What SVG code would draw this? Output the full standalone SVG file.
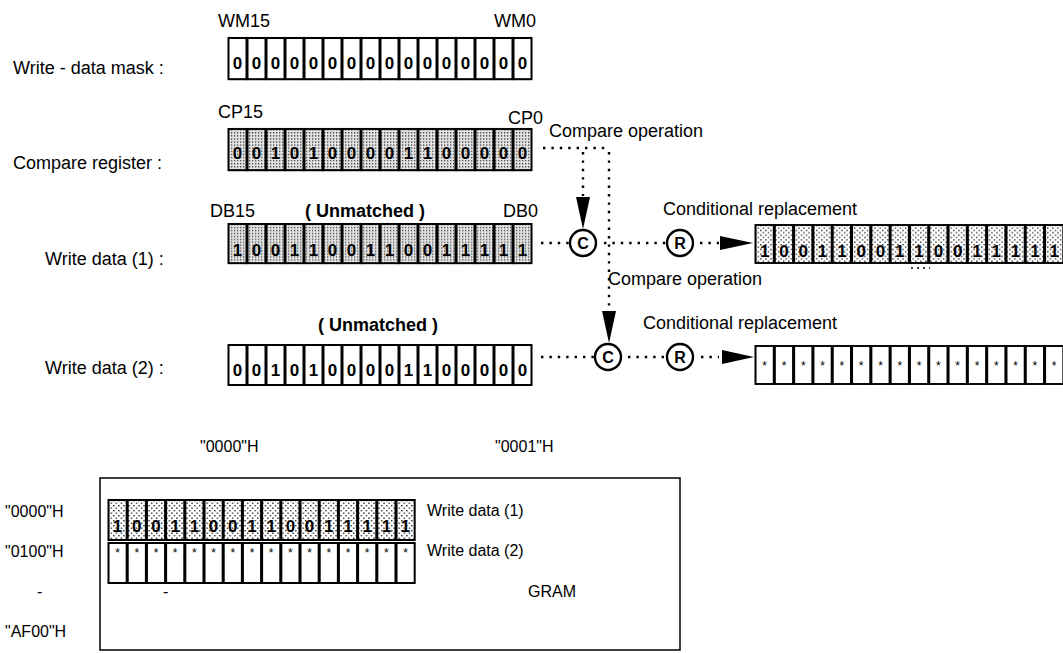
<svg xmlns="http://www.w3.org/2000/svg" xmlns:xlink="http://www.w3.org/1999/xlink" width="1063" height="653" viewBox="0 0 1063 653">
<style>
text{font-family:"Liberation Sans",Arial,sans-serif;font-size:18px;fill:#000}
.g{font-size:16px}
.b{font-weight:bold;font-size:18px}
.d{font-weight:bold;font-size:17px;text-anchor:middle}
.s{font-size:12px;text-anchor:middle}
.cell{stroke:#000;stroke-width:2}
.dot{stroke:#000;stroke-width:2.4;stroke-dasharray:2.4 6;fill:none}
.circ{fill:#fff;stroke:#000;stroke-width:2.4}
.cl{font-weight:bold;font-size:16px;text-anchor:middle}
</style>
<defs>
<pattern id="dense" width="3" height="3" patternUnits="userSpaceOnUse">
<rect width="3" height="3" fill="#e2e2e2"/>
<rect width="1.3" height="1.3" fill="#4a4a4a"/>
</pattern>
<pattern id="light" width="5" height="5" patternUnits="userSpaceOnUse">
<rect width="5" height="5" fill="#fff"/>
<rect width="1.4" height="1.4" fill="#333"/>
<rect x="2.5" y="2.5" width="1.4" height="1.4" fill="#333"/>
</pattern>
<g id="row">
<rect class="cell" x="0.5" y="0" width="18" height="40"/>
<rect class="cell" x="19.5" y="0" width="18" height="40"/>
<rect class="cell" x="38.5" y="0" width="18" height="40"/>
<rect class="cell" x="57.5" y="0" width="18" height="40"/>
<rect class="cell" x="76.5" y="0" width="18" height="40"/>
<rect class="cell" x="95.5" y="0" width="18" height="40"/>
<rect class="cell" x="114.5" y="0" width="18" height="40"/>
<rect class="cell" x="133.5" y="0" width="18" height="40"/>
<rect class="cell" x="152.5" y="0" width="18" height="40"/>
<rect class="cell" x="171.5" y="0" width="18" height="40"/>
<rect class="cell" x="190.5" y="0" width="18" height="40"/>
<rect class="cell" x="209.5" y="0" width="18" height="40"/>
<rect class="cell" x="228.5" y="0" width="18" height="40"/>
<rect class="cell" x="247.5" y="0" width="18" height="40"/>
<rect class="cell" x="266.5" y="0" width="18" height="40"/>
<rect class="cell" x="285.5" y="0" width="18" height="40"/>
</g>
</defs>

<g id="labels">
<text x="13" y="74">Write - data mask :</text>
<text x="13" y="169">Compare register :</text>
<text x="45" y="265">Write data (1)  :</text>
<text x="45" y="374">Write data (2)  :</text>
</g>

<g id="mask">
<text x="218" y="27">WM15</text>
<text x="494" y="27">WM0</text>
<use xlink:href="#row" transform="translate(228,38) scale(1,1.03)" fill="#fff"/>
<text class="d" y="69" x="237.5 256.5 275.5 294.5 313.5 332.5 351.5 370.5 389.5 408.5 427.5 446.5 465.5 484.5 503.5 522.5">0000000000000000</text>
</g>

<g id="compare">
<text x="218" y="118">CP15</text>
<text x="508" y="124">CP0</text>
<use xlink:href="#row" transform="translate(228,129) scale(1,1.03)" fill="url(#dense)"/>
<text class="d" y="159" x="237.5 256.5 275.5 294.5 313.5 332.5 351.5 370.5 389.5 408.5 427.5 446.5 465.5 484.5 503.5 522.5">0010100001100000</text>
</g>

<g id="wdata1">
<text x="210" y="217">DB15</text>
<text class="b" x="305" y="217">( Unmatched )</text>
<text x="503" y="217">DB0</text>
<use xlink:href="#row" transform="translate(228,224) scale(1,0.98)" fill="url(#dense)"/>
<text class="d" y="256" x="237.5 256.5 275.5 294.5 313.5 332.5 351.5 370.5 389.5 408.5 427.5 446.5 465.5 484.5 503.5 522.5">1001100110011111</text>
</g>

<g id="wdata2">
<text class="b" x="318" y="331">( Unmatched )</text>
<use xlink:href="#row" transform="translate(228,345)" fill="#fff"/>
<text class="d" y="376" x="237.5 256.5 275.5 294.5 313.5 332.5 351.5 370.5 389.5 408.5 427.5 446.5 465.5 484.5 503.5 522.5">0010100001100000</text>
</g>

<g id="result1">
<text x="663" y="215">Conditional replacement</text>
<use xlink:href="#row" transform="translate(755,225) scale(1.016,0.95)" fill="url(#light)"/>
<text class="d" y="257" x="764.7 784 803.3 822.6 841.9 861.2 880.5 899.8 919.1 938.4 957.7 977 996.3 1015.6 1034.9 1054.2">1001100110011111</text>
</g>

<g id="result2">
<text x="643" y="329">Conditional replacement</text>
<use xlink:href="#row" transform="translate(755,346) scale(1.016,0.95)" fill="#fff"/>
<text class="s" y="370" x="764.7 784 803.3 822.6 841.9 861.2 880.5 899.8 919.1 938.4 957.7 977 996.3 1015.6 1034.9 1054.2">****************</text>
</g>

<g id="connectors">
<text x="549" y="137">Compare operation</text>
<text x="608" y="285">Compare operation</text>
<path class="dot" d="M543 148 H609"/>
<path class="dot" d="M583 152 V196"/>
<path d="M576 197 L590 197 L583 229 Z" fill="#000"/>
<path class="dot" d="M609 152 V310"/>
<path d="M602 311 L616 311 L609 343 Z" fill="#000"/>
<path class="dot" d="M541 243 H571"/>
<path class="dot" d="M604 243 H667"/>
<path class="dot" d="M700 243 H719"/>
<path d="M720 236 L720 250 L753 243 Z" fill="#000"/>
<path class="dot" d="M541 357 H595"/>
<path class="dot" d="M628 357 H667"/>
<path class="dot" d="M701 357 H719"/>
<path d="M722 350 L722 364 L754 357 Z" fill="#000"/>
<path d="M911 268 H930" stroke="#000" stroke-width="1.5" stroke-dasharray="2 4" fill="none"/>
</g>

<g id="c1">
<circle class="circ" cx="583" cy="243" r="13"/>
<text class="cl" x="583" y="249">C</text>
</g>
<g id="r1">
<circle class="circ" cx="680" cy="243" r="13"/>
<text class="cl" x="680" y="249">R</text>
</g>
<g id="c2">
<circle class="circ" cx="608" cy="357" r="13"/>
<text class="cl" x="608" y="363">C</text>
</g>
<g id="r2">
<circle class="circ" cx="680" cy="357" r="13"/>
<text class="cl" x="680" y="363">R</text>
</g>

<g id="gram">
<text class="g" x="200" y="452">"0000"H</text>
<text class="g" x="495" y="452">"0001"H</text>
<rect x="100" y="478" width="580" height="172" fill="none" stroke="#000" stroke-width="1.5"/>
<text class="g" x="5" y="517">"0000"H</text>
<text class="g" x="5" y="557">"0100"H</text>
<text class="g" x="37" y="597">-</text>
<text class="g" x="5" y="637">"AF00"H</text>
<text class="g" x="163" y="597">-</text>
<text class="g" x="528" y="597">GRAM</text>
<use xlink:href="#row" transform="translate(108,500) scale(1.0105,1)" fill="url(#light)"/>
<text class="d" y="532" x="117.6 136.8 156 175.2 194.4 213.6 232.8 252 271.2 290.4 309.6 328.8 348 367.2 386.4 405.6">1001100110011111</text>
<text class="g" x="427" y="516">Write data (1)</text>
<use xlink:href="#row" transform="translate(108,543) scale(1.0105,1)" fill="#fff"/>
<text class="s" y="557" x="117.6 136.8 156 175.2 194.4 213.6 232.8 252 271.2 290.4 309.6 328.8 348 367.2 386.4 405.6">****************</text>
<text class="g" x="427" y="556">Write data (2)</text>
</g>
</svg>
